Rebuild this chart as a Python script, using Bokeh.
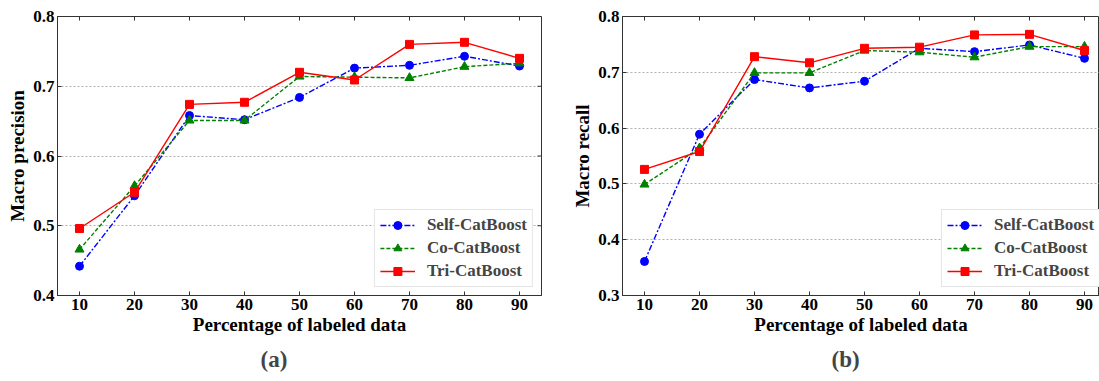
import math
from bokeh.plotting import figure
from bokeh.layouts import row
from bokeh.models import Title, FixedTicker, Range1d
from bokeh.embed import file_html
from bokeh.resources import INLINE

# ---- data ----
pct = [10, 20, 30, 40, 50, 60, 70, 80, 90]
series_names = ["Self-CatBoost", "Co-CatBoost", "Tri-CatBoost"]

prec_self = [0.442, 0.543, 0.658, 0.652, 0.684, 0.726, 0.730, 0.743, 0.729]
prec_co = [0.466, 0.557, 0.651, 0.651, 0.714, 0.713, 0.712, 0.728, 0.733]
prec_tri = [0.496, 0.548, 0.674, 0.677, 0.720, 0.709, 0.760, 0.763, 0.740]

rec_self = [0.361, 0.589, 0.687, 0.672, 0.684, 0.743, 0.737, 0.749, 0.725]
rec_co = [0.499, 0.564, 0.699, 0.699, 0.739, 0.736, 0.727, 0.746, 0.746]
rec_tri = [0.526, 0.558, 0.728, 0.717, 0.743, 0.745, 0.767, 0.768, 0.739]

x_ticks = [10, 20, 30, 40, 50, 60, 70, 80, 90]
prec_ticks = [0.4, 0.5, 0.6, 0.7, 0.8]
rec_ticks = [0.3, 0.4, 0.5, 0.6, 0.7, 0.8]

FONT = "Liberation Serif"
styles = [
    dict(color="#0000ff", dash="6 2 2 2", marker="circle", size=8),
    dict(color="#008000", dash="4 2", marker="triangle", size=9),
    dict(color="#ff0000", dash="solid", marker="square", size=8),
]


def make(ys, yrange, yticks, ylabel, caption, width, xend, mbl, mbr,
         right_ticks, legend_loc, cap_offset):
    p = figure(width=width, height=381, output_backend="svg",
               toolbar_location=None,
               x_range=Range1d(6, xend), y_range=Range1d(*yrange),
               min_border_left=mbl, min_border_right=mbr,
               min_border_top=16, min_border_bottom=86)
    p.outline_line_color = "#333333"
    p.background_fill_color = "white"
    p.border_fill_color = "white"

    # inward tick marks along the top (and right) frame edges
    p.scatter(x_ticks, [yrange[1]] * len(x_ticks), marker="dash",
              angle=math.pi / 2, size=8, line_color="#333333", line_width=1)
    if right_ticks:
        p.scatter([xend] * len(yticks), yticks, marker="dash", size=8,
                  line_color="#333333", line_width=1)

    for name, y, st in zip(series_names, ys, styles):
        p.line(pct, y, line_color=st["color"], line_dash=st["dash"],
               line_width=1.4, legend_label=name)
        p.scatter(pct, y, marker=st["marker"], size=st["size"],
                  fill_color=st["color"], line_color=st["color"],
                  legend_label=name)

    p.xaxis.ticker = FixedTicker(ticks=x_ticks)
    p.yaxis.ticker = FixedTicker(ticks=yticks)
    p.xaxis.axis_label = "Percentage of labeled data"
    p.yaxis.axis_label = ylabel
    for ax in (p.xaxis[0], p.yaxis[0]):
        ax.major_label_text_font = FONT
        ax.major_label_text_font_style = "bold"
        ax.major_label_text_font_size = "17px"
        ax.major_label_text_color = "black"
        ax.axis_label_text_font = FONT
        ax.axis_label_text_font_style = "bold"
        ax.axis_label_text_font_size = "19px"
        ax.axis_label_text_color = "black"
        ax.major_tick_in = 4
        ax.major_tick_out = 0
        ax.minor_tick_in = 0
        ax.minor_tick_out = 0
        ax.axis_line_color = "#333333"
        ax.major_tick_line_color = "#333333"
        ax.major_label_standoff = 3
        ax.axis_label_standoff = 2
    p.xaxis[0].axis_label_standoff = 1
    p.yaxis[0].major_label_overrides = {t: f"{t:.1f}" for t in yticks}

    p.xgrid.visible = False
    p.ygrid.grid_line_color = "#b0b0b0"
    p.ygrid.grid_line_dash = "2 2"
    p.ygrid.grid_line_width = 1

    lg = p.legend[0]
    lg.location = legend_loc
    lg.margin = 8
    lg.border_line_color = "#cccccc"
    lg.border_line_width = 1
    lg.background_fill_color = "white"
    lg.background_fill_alpha = 1
    lg.label_text_font = FONT
    lg.label_text_font_style = "bold"
    lg.label_text_font_size = "17px"
    lg.glyph_width = 35
    lg.glyph_height = 20
    lg.label_height = 20
    lg.spacing = 3
    lg.padding = 5
    lg.label_standoff = 12

    p.add_layout(Title(text=caption, align="left", offset=cap_offset,
                       text_font=FONT, text_font_style="bold",
                       text_font_size="23px", standoff=15), "below")
    return p


p1 = make([prec_self, prec_co, prec_tri], (0.4, 0.8), prec_ticks,
          "Macro precision", "(a)", 556, 94, 57, 15, True,
          "bottom_right", 203)
p2 = make([rec_self, rec_co, rec_tri], (0.3, 0.8), rec_ticks,
          "Macro recall", "(b)", 543, 6 + 477 / 5.5, 66, 0, False,
          (319, 8), 209)

layout = row(p1, p2)
open("out.html", "w").write(file_html(layout, INLINE))
